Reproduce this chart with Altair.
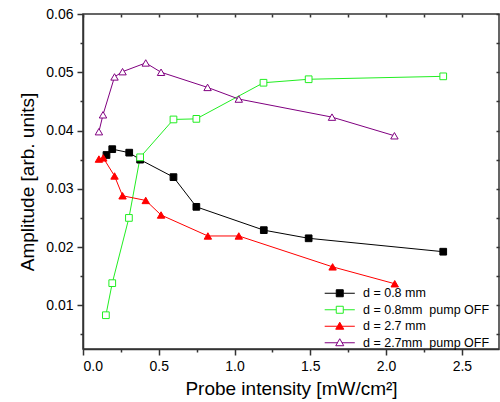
import altair as alt
import pandas as pd

labels = ["d = 0.8 mm", "d = 0.8mm\u00a0 pump OFF", "d = 2.7 mm", "d = 2.7mm\u00a0 pump OFF"]

x_black = [0.155, 0.193, 0.305, 0.377, 0.597, 0.748, 1.193, 1.489, 2.377]
y_black = [0.0358, 0.0368, 0.0362, 0.0350, 0.0320, 0.0269, 0.0229, 0.0215, 0.0192]

x_green = [0.151, 0.193, 0.303, 0.377, 0.597, 0.748, 1.191, 1.489, 2.377]
y_green = [0.0083, 0.0138, 0.0250, 0.0354, 0.0419, 0.0420, 0.0482, 0.0488, 0.0493]

x_red = [0.105, 0.134, 0.208, 0.261, 0.414, 0.515, 0.824, 1.028, 1.647, 2.057]
y_red = [0.0351, 0.0353, 0.0322, 0.0288, 0.0280, 0.0255, 0.0219, 0.0219, 0.0166, 0.0137]

x_purple = [0.105, 0.132, 0.208, 0.261, 0.414, 0.515, 0.822, 1.028, 1.643, 2.055]
y_purple = [0.0398, 0.0427, 0.0492, 0.0501, 0.0516, 0.0500, 0.0474, 0.0454, 0.0423, 0.0391]

x_major = [0.0, 0.5, 1.0, 1.5, 2.0, 2.5]
x_minor = [0.25, 0.75, 1.25, 1.75, 2.25]
y_major = [0.01, 0.02, 0.03, 0.04, 0.05, 0.06]
y_minor = [0.005, 0.015, 0.025, 0.035, 0.045, 0.055]

stroke_colors = ["#000000", "#22ee22", "#ff0000", "#800080"]
fill_colors = ["#000000", "#ffffff", "#ff0000", "#ffffff"]
marker_kind = ["square", "square", "triangle", "triangle"]

# legend glyphs: a short line with the marker in its middle
SQ = "M-4.3,0H-1M1,0H4.3M-1,-1H1V1H-1Z"
TR = "M-4.3,0H-0.6M0.6,0H4.3M0,-1.15L1.15,0.85L-1.15,0.85Z"
legend_shapes = [SQ, SQ, TR, TR]

rows = []
for lab, kind, xs, ys in zip(labels, marker_kind, [x_black, x_green, x_red, x_purple],
                             [y_black, y_green, y_red, y_purple]):
    for xv, yv in zip(xs, ys):
        rows.append({"x": xv, "y": yv, "series": lab, "kind": kind})
df = pd.DataFrame(rows)

FONT = "Liberation Sans"

xscale = alt.Scale(domain=[0, 2.745], nice=False, zero=False)
yscale = alt.Scale(domain=[0.0025, 0.06], nice=False, zero=False)

x_axis_bottom = alt.Axis(
    orient="bottom", values=x_major, title="Probe intensity [mW/cm\u00b2]",
    format=".1f", tickSize=6, labelPadding=4, titlePadding=6,
)
y_axis_left = alt.Axis(
    orient="left", values=y_major, title="Amplitude [arb. units]",
    format=".2f", tickSize=6, labelPadding=4, titlePadding=8,
)
x_axis_top = alt.Axis(
    orient="top", values=x_major + x_minor, labels=False, title=None,
    tickSize=3, offset=-3, domain=False,
)
y_axis_right = alt.Axis(
    orient="right", values=y_major + y_minor, labels=False, title=None,
    tickSize=3, offset=-3, domain=False,
)
x_axis_minor = alt.Axis(
    orient="bottom", values=x_minor, labels=False, title=None,
    tickSize=3, domain=False,
)
y_axis_minor = alt.Axis(
    orient="left", values=y_minor, labels=False, title=None,
    tickSize=3, domain=False,
)

legend = alt.Legend(
    orient="none", legendX=250.5, legendY=273, title=None,
    symbolSize=49, symbolStrokeWidth=1,
    labelFont=FONT, labelFontSize=12.5, labelColor="#000000",
    rowPadding=3.5, labelOffset=17,
)

stroke_scale = alt.Scale(domain=labels, range=stroke_colors)
fill_scale = alt.Scale(domain=labels, range=fill_colors)

base = alt.Chart(df)

minor = base.mark_point(opacity=0).encode(
    x=alt.X("x:Q", scale=xscale, axis=x_axis_minor),
    y=alt.Y("y:Q", scale=yscale, axis=y_axis_minor),
)

lines = base.mark_line(strokeWidth=1).encode(
    x=alt.X("x:Q", scale=xscale, axis=x_axis_bottom),
    y=alt.Y("y:Q", scale=yscale, axis=y_axis_left),
    stroke=alt.Stroke("series:N", scale=stroke_scale, legend=legend),
)

squares = base.transform_filter(alt.datum.kind == "square").mark_point(
    shape="square", strokeWidth=1, opacity=1, size=45
).encode(
    x=alt.X("x:Q", scale=xscale, axis=x_axis_top),
    y=alt.Y("y:Q", scale=yscale, axis=y_axis_right),
    fill=alt.Fill("series:N", scale=fill_scale, legend=legend),
    stroke=alt.Stroke("series:N", scale=stroke_scale, legend=legend),
)

triangles = base.transform_filter(alt.datum.kind == "triangle").mark_point(
    shape="triangle-up", strokeWidth=1, opacity=1, size=55
).encode(
    x=alt.X("x:Q", scale=xscale, axis=None),
    y=alt.Y("y:Q", scale=yscale, axis=None),
    fill=alt.Fill("series:N", scale=fill_scale, legend=legend),
    stroke=alt.Stroke("series:N", scale=stroke_scale, legend=legend),
)

legend_layer = base.mark_point(size=0, opacity=1, strokeWidth=1).encode(
    x=alt.X("x:Q", scale=xscale, axis=None),
    y=alt.Y("y:Q", scale=yscale, axis=None),
    fill=alt.Fill("series:N", scale=fill_scale, legend=legend),
    stroke=alt.Stroke("series:N", scale=stroke_scale, legend=legend),
    shape=alt.Shape("series:N", scale=alt.Scale(domain=labels, range=legend_shapes), legend=legend),
)

chart = alt.layer(minor, lines, legend_layer, squares, triangles).resolve_axis(
    x="independent", y="independent"
).properties(
    width=416, height=335,
    autosize=alt.AutoSizeParams(type="none"),
    padding={"left": 83, "top": 14, "right": 1, "bottom": 53},
).configure_view(stroke="#333333", strokeWidth=1.5).configure_axis(
    labelFont=FONT, labelFontSize=14, labelColor="#000000",
    titleFont=FONT, titleFontSize=19, titleColor="#000000", titleFontWeight="normal",
    domainColor="#333333", domainWidth=1.5, tickColor="#333333", tickWidth=1.5,
    grid=False,
)

chart.save("out.html", embed_options={"renderer": "svg", "actions": False})
